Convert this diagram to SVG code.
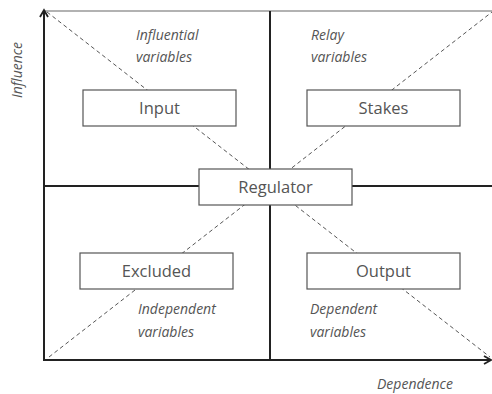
<svg xmlns="http://www.w3.org/2000/svg" width="492" height="394" viewBox="0 0 492 394">
<style>
.box{fill:#fff;stroke:#555;stroke-width:1.2}
.bt{font-family:"Open Sans","Noto Sans",sans-serif;font-size:16.5px;fill:#555;text-anchor:middle}
.lab{font-family:"Open Sans","Noto Sans",sans-serif;font-size:14px;font-style:italic;fill:#555}
.ax{stroke:#222;stroke-width:2;fill:none}
.dash{stroke:#555;stroke-width:1;stroke-dasharray:4,3;fill:none}
</style>
<defs>
<marker id="arr" markerWidth="10" markerHeight="10" refX="8" refY="5" orient="auto" markerUnits="userSpaceOnUse">
<path d="M1,1 L8,5 L1,9" fill="none" stroke="#222" stroke-width="1.8"/>
</marker>
</defs>
<rect width="492" height="394" fill="#fff"/>
<g id="connectors">
<line x1="44" y1="11" x2="492" y2="11" stroke="#999" stroke-width="1.5"/>
<line class="dash" x1="47" y1="12" x2="490" y2="357"/>
<line class="dash" x1="49" y1="357" x2="492" y2="12"/>
<line class="ax" x1="270" y1="11" x2="270" y2="360"/>
<line class="ax" x1="44" y1="186" x2="492" y2="186"/>
<line class="ax" x1="44" y1="361" x2="44" y2="10" marker-end="url(#arr)"/>
<line class="ax" x1="43" y1="360" x2="491" y2="360" marker-end="url(#arr)"/>
</g>
<g id="input"><rect class="box" x="83" y="90" width="153" height="36"/><text class="bt" x="159.5" y="114">Input</text></g>
<g id="stakes"><rect class="box" x="307" y="90" width="153" height="36"/><text class="bt" x="383.5" y="114">Stakes</text></g>
<g id="regulator"><rect class="box" x="199" y="169" width="153" height="36"/><text class="bt" x="275.5" y="193">Regulator</text></g>
<g id="excluded"><rect class="box" x="80" y="253" width="153" height="36"/><text class="bt" x="156.5" y="277">Excluded</text></g>
<g id="output"><rect class="box" x="307" y="253" width="153" height="36"/><text class="bt" x="383.5" y="277">Output</text></g>
<g id="labels">
<text class="lab" x="136" y="40">Influential</text>
<text class="lab" x="136" y="62">variables</text>
<text class="lab" x="311" y="40">Relay</text>
<text class="lab" x="311" y="62">variables</text>
<text class="lab" x="138" y="314">Independent</text>
<text class="lab" x="138" y="337">variables</text>
<text class="lab" x="310" y="314">Dependent</text>
<text class="lab" x="310" y="337">variables</text>
<text class="lab" x="377" y="389">Dependence</text>
<text class="lab" x="22" y="70" text-anchor="middle" transform="rotate(-90 22 70)">Influence</text>
</g>
</svg>
